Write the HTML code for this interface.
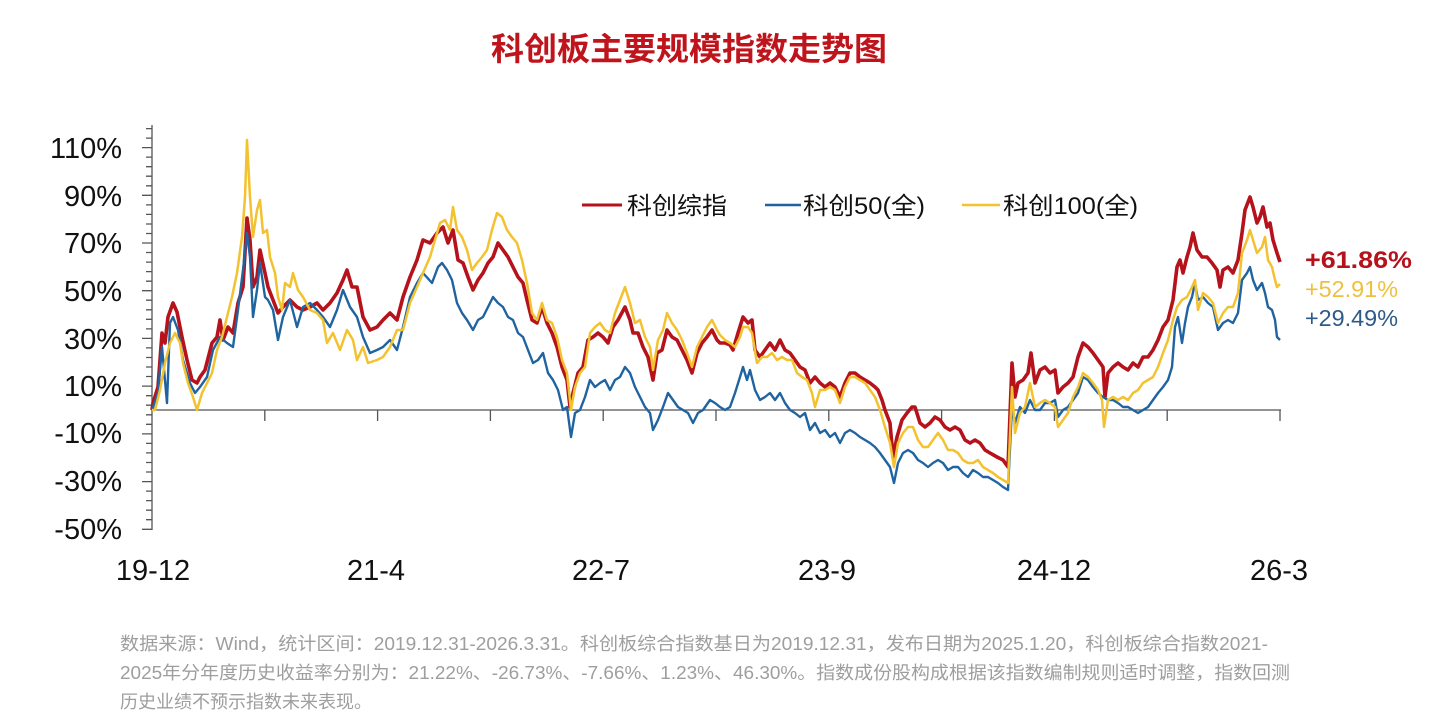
<!DOCTYPE html>
<html><head><meta charset="utf-8"><style>
html,body{margin:0;padding:0;background:#fff;}
svg{display:block;}
text{font-family:"Liberation Sans","Noto Sans CJK SC",sans-serif;}
</style></head><body>
<svg width="1429" height="724" viewBox="0 0 1429 724" xmlns="http://www.w3.org/2000/svg">
<rect width="1429" height="724" fill="#fff"/>
<text x="491" y="60" font-size="32" font-weight="bold" fill="#C0141C" textLength="396" lengthAdjust="spacingAndGlyphs">科创板主要规模指数走势图</text>

<!-- y axis -->
<g stroke="#555" stroke-width="1.3" fill="none">
<line x1="152" y1="125" x2="152" y2="530"/>
<line x1="152" y1="410" x2="1281" y2="410"/>
<!-- major ticks -->
<path d="M142 147.6H152M142 195.3H152M142 243H152M142 290.7H152M142 338.4H152M142 386.1H152M142 433.9H152M142 481.6H152M142 529.3H152"/>
<!-- minor ticks -->
<path d="M146 128.6H152M146 138.1H152M146 157.1H152M146 166.7H152M146 176.2H152M146 185.8H152M146 204.9H152M146 214.4H152M146 224H152M146 233.5H152M146 252.5H152M146 262.1H152M146 271.6H152M146 281.2H152M146 300.2H152M146 309.8H152M146 319.3H152M146 328.9H152M146 347.9H152M146 357.5H152M146 367H152M146 376.5H152M146 395.7H152M146 405.2H152M146 414.8H152M146 424.3H152M146 443.4H152M146 452.9H152M146 462.5H152M146 472H152M146 491.1H152M146 500.6H152M146 510.2H152M146 519.7H152"/>
<!-- x ticks -->
<path d="M264.8 410V421M377.6 410V421M490.4 410V421M603.2 410V421M716 410V421M828.8 410V421M941.6 410V421M1054.4 410V421M1167.2 410V421M1280 410V421"/>
</g>

<g font-size="29" fill="#111" text-anchor="end">
<text x="122" y="158">110%</text>
<text x="122" y="206">90%</text>
<text x="122" y="253">70%</text>
<text x="122" y="301">50%</text>
<text x="122" y="349">30%</text>
<text x="122" y="396">10%</text>
<text x="122" y="443">-10%</text>
<text x="122" y="491">-30%</text>
<text x="122" y="539">-50%</text>
</g>
<g font-size="29" fill="#111" text-anchor="middle">
<text x="153" y="580">19-12</text>
<text x="376" y="580">21-4</text>
<text x="601" y="580">22-7</text>
<text x="827" y="580">23-9</text>
<text x="1054" y="580">24-12</text>
<text x="1279" y="580">26-3</text>
</g>

<!-- series -->
<polyline fill="none" stroke="#B5121B" stroke-width="3.6" stroke-linejoin="round" points="152,410 153,403 158,387 162,333 165,343 168,317 173,303 177,312 182,337 187,360 192,380 197,383 200,377 205,370 212,343 217,337 220,320 223,340 228,327 233,333 238,303 243,287 247,218 250,240 253,287 257,277 260,250 265,273 268,287 273,300 278,313 283,307 290,300 297,307 303,310 310,307 317,303 323,310 330,303 337,293 343,280 347,270 352,287 357,287 363,317 370,330 377,327 383,320 390,313 397,320 403,297 410,277 417,260 423,240 430,243 437,233 443,227 448,243 453,230 458,260 463,263 468,277 473,290 478,280 483,273 488,263 493,257 498,243 503,250 508,257 513,267 518,277 523,283 527,300 532,320 537,323 542,307 547,323 552,333 557,347 562,367 567,380 570,407 573,393 578,373 583,367 588,340 593,337 598,333 603,337 608,343 613,327 618,320 625,307 630,320 633,333 638,333 643,347 648,357 653,380 657,353 662,350 667,330 672,337 677,340 682,350 687,360 692,373 697,353 702,343 707,337 712,330 717,340 720,343 725,343 730,345 733,350 738,333 743,317 748,323 752,320 755,350 760,357 765,350 770,343 775,350 780,340 785,350 790,353 795,360 800,367 805,370 810,383 815,377 820,383 825,387 830,383 835,387 840,397 845,383 850,373 855,373 860,377 865,380 870,383 875,387 878,390 882,400 885,410 890,423 893,457 897,437 902,420 907,413 912,407 915,407 920,423 925,427 930,423 935,417 940,420 945,427 950,430 955,427 960,430 965,440 970,443 975,440 980,443 985,450 990,453 997,457 1003,460 1008,467 1012,363 1015,397 1018,383 1023,380 1028,373 1031,353 1035,383 1040,370 1045,367 1050,373 1055,370 1058,393 1063,387 1068,383 1073,377 1078,357 1083,343 1088,347 1093,353 1098,360 1103,367 1105,397 1108,373 1113,367 1118,363 1123,367 1128,370 1133,363 1138,367 1143,357 1148,357 1153,350 1158,340 1163,327 1168,320 1173,300 1177,267 1180,260 1183,273 1187,257 1190,247 1193,233 1197,250 1202,257 1207,257 1212,263 1217,270 1220,287 1223,270 1228,267 1233,273 1238,260 1242,233 1245,210 1250,197 1253,207 1257,223 1260,217 1263,207 1267,227 1270,223 1273,240 1277,253 1280,262"/>
<polyline fill="none" stroke="#1F64A0" stroke-width="2.4" stroke-linejoin="round" points="152,410 153,407 158,393 162,347 167,403 170,323 173,317 178,330 183,360 190,383 195,393 200,387 207,377 213,350 220,337 227,343 233,347 238,310 243,270 247,233 250,257 253,317 257,290 260,263 265,297 268,300 273,310 278,340 283,317 290,300 297,327 303,307 310,303 317,310 323,317 330,327 337,310 343,290 350,307 357,317 363,337 370,353 377,350 383,347 390,340 397,350 403,327 410,297 417,283 423,273 432,283 438,267 442,263 447,270 452,280 457,303 462,313 467,320 473,330 478,320 483,317 488,307 493,297 498,303 503,307 508,317 513,320 518,333 523,337 528,350 533,363 538,360 543,353 548,373 553,380 558,390 563,410 567,407 571,437 575,413 580,410 585,397 590,380 595,387 600,383 605,380 610,390 615,380 620,377 625,367 630,373 635,387 640,397 645,407 650,413 653,430 658,420 663,407 668,393 673,400 678,407 683,410 688,413 693,423 698,413 703,410 710,400 715,403 720,407 725,410 730,407 735,393 740,377 743,367 747,380 750,370 755,390 760,400 765,397 770,393 775,400 780,393 785,403 790,410 795,413 800,417 805,413 810,430 815,423 820,433 825,430 830,437 835,433 840,443 845,433 850,430 855,433 860,437 865,440 870,443 875,447 880,453 885,460 890,467 894,483 898,463 903,453 908,450 913,453 918,460 923,463 928,467 933,463 938,460 943,463 948,470 953,467 958,467 963,473 968,477 973,470 978,473 983,477 988,477 993,480 998,483 1003,487 1008,490 1012,407 1015,423 1020,407 1025,413 1030,400 1035,410 1040,410 1045,403 1050,403 1055,400 1058,417 1063,410 1068,407 1073,400 1078,393 1083,377 1088,380 1093,387 1098,393 1103,397 1108,400 1113,400 1118,403 1123,407 1128,407 1133,410 1138,413 1143,410 1148,407 1153,400 1158,393 1163,387 1168,380 1172,367 1175,327 1178,317 1182,343 1185,323 1188,307 1192,297 1195,283 1198,300 1203,297 1208,303 1213,307 1218,330 1223,323 1228,320 1233,323 1238,313 1242,280 1247,273 1250,267 1253,280 1257,290 1262,283 1265,293 1268,307 1272,310 1275,320 1277,337 1280,340"/>
<polyline fill="none" stroke="#F3C230" stroke-width="2.5" stroke-linejoin="round" points="152,410 155,410 160,390 165,363 170,343 175,333 180,343 183,363 188,383 193,397 197,410 202,393 207,383 212,373 217,350 222,337 227,317 232,297 237,273 242,237 245,197 247,140 250,197 253,237 257,210 260,200 263,233 267,230 270,257 275,273 278,297 282,310 285,283 290,287 293,273 298,290 303,297 310,310 317,313 323,320 327,343 333,333 340,350 347,330 353,340 357,360 363,347 368,363 377,360 383,357 390,347 397,330 403,330 410,303 417,287 423,273 430,257 435,240 440,223 445,220 450,230 453,207 457,230 462,237 467,250 472,270 477,263 482,257 487,250 492,230 497,213 502,217 507,230 512,237 517,243 522,260 527,283 532,313 537,320 542,303 547,320 552,323 557,337 562,360 567,373 571,410 575,387 580,373 585,367 590,333 595,327 600,323 605,330 610,333 615,313 620,300 625,287 630,303 635,323 640,320 645,337 650,347 653,370 658,340 663,330 667,313 672,323 677,330 682,340 687,353 692,367 697,347 702,337 707,327 712,320 717,330 720,335 725,340 730,343 735,347 740,337 743,327 748,327 752,333 757,363 762,357 767,357 772,353 777,360 782,357 787,360 792,360 797,373 802,377 807,380 812,393 815,407 820,390 825,390 830,387 835,390 840,403 845,387 850,377 855,377 860,380 865,383 870,390 875,397 880,410 885,427 890,443 894,467 898,443 903,433 908,427 913,427 918,440 923,447 928,447 933,440 938,433 943,440 948,450 953,450 958,453 963,460 968,463 973,463 978,460 983,467 988,470 993,473 998,477 1003,480 1008,483 1012,387 1015,433 1020,413 1025,407 1030,383 1035,407 1040,403 1045,400 1050,403 1055,407 1058,427 1063,420 1068,413 1073,397 1078,387 1083,373 1088,377 1093,383 1098,390 1102,400 1104,427 1108,400 1113,397 1118,400 1123,397 1128,400 1133,393 1138,390 1143,383 1148,380 1153,377 1158,367 1163,353 1168,340 1173,320 1177,307 1182,300 1187,297 1192,287 1195,280 1198,310 1203,293 1208,297 1213,303 1218,323 1223,313 1228,307 1233,307 1238,293 1242,253 1247,240 1250,230 1253,240 1257,253 1262,247 1265,237 1268,260 1272,267 1275,280 1277,287 1280,284"/>

<!-- legend -->
<line x1="582" y1="205" x2="622" y2="205" stroke="#B5121B" stroke-width="3"/>
<text x="627" y="214" font-size="24" fill="#111" textLength="100" lengthAdjust="spacingAndGlyphs">科创综指</text>
<line x1="765" y1="205" x2="801" y2="205" stroke="#1F64A0" stroke-width="2.4"/>
<text x="803" y="214" font-size="24" fill="#111" textLength="122" lengthAdjust="spacingAndGlyphs">科创50(全)</text>
<line x1="962" y1="205" x2="1000" y2="205" stroke="#F3C230" stroke-width="2.4"/>
<text x="1003" y="214" font-size="24" fill="#111" textLength="135" lengthAdjust="spacingAndGlyphs">科创100(全)</text>

<!-- end labels -->
<text x="1305" y="268" font-size="24" font-weight="bold" fill="#B5121B" textLength="107" lengthAdjust="spacingAndGlyphs">+61.86%</text>
<text x="1305" y="297" font-size="23" fill="#EFC03E" textLength="93" lengthAdjust="spacingAndGlyphs">+52.91%</text>
<text x="1305" y="326" font-size="23" fill="#2E5A8A" textLength="93" lengthAdjust="spacingAndGlyphs">+29.49%</text>

<!-- footnote -->
<g font-size="18" fill="#9E9E9E">
<text x="120" y="650" textLength="1148" lengthAdjust="spacingAndGlyphs">数据来源：Wind，统计区间：2019.12.31-2026.3.31。科创板综合指数基日为2019.12.31，发布日期为2025.1.20，科创板综合指数2021-</text>
<text x="120" y="679" textLength="1170" lengthAdjust="spacingAndGlyphs">2025年分年度历史收益率分别为：21.22%、-26.73%、-7.66%、1.23%、46.30%。指数成份股构成根据该指数编制规则适时调整，指数回测</text>
<text x="120" y="708" textLength="252" lengthAdjust="spacingAndGlyphs">历史业绩不预示指数未来表现。</text>
</g>
</svg>
</body></html>
